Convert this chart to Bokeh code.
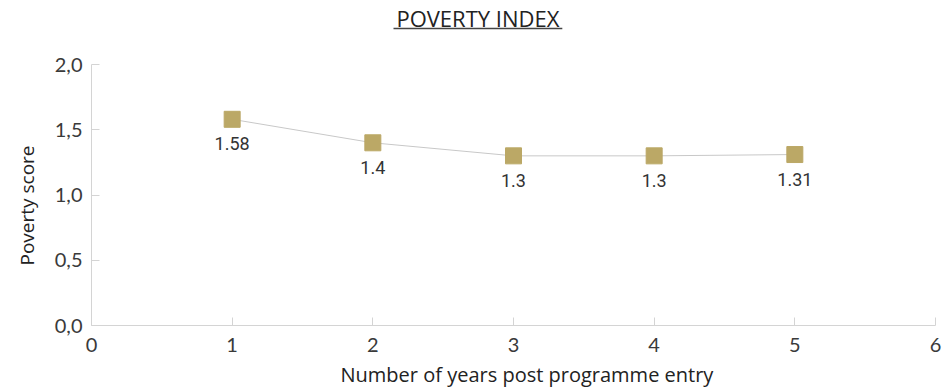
from bokeh.plotting import figure
from bokeh.models import ColumnDataSource, Range1d, FixedTicker, CustomJSTickFormatter, LabelSet, Title
from bokeh.core.properties import value
from bokeh.embed import file_html
from bokeh.resources import INLINE

# Poverty score by years since programme entry
years = [1, 2, 3, 4, 5]
scores = [1.58, 1.4, 1.3, 1.3, 1.31]
score_labels = ["1.58", "1.4", "1.3", "1.3", "1.31"]

x_ticks = [0, 1, 2, 3, 4, 5, 6]
y_ticks = [0.0, 0.5, 1.0, 1.5, 2.0]

chart_title = "POVERTY INDEX"
x_title = "Number of years post  programme entry"
y_title = "Poverty score"

src = ColumnDataSource(dict(x=years, y=scores, label=score_labels))

# The frame reaches the top of the canvas so the title can be drawn inside it;
# the axes are bounded to the data extent.
y_top = 2.0 + 64 / 130.5
p = figure(width=944, height=391, output_backend="svg", toolbar_location=None,
           x_range=Range1d(0, 6), y_range=Range1d(0, y_top),
           min_border_left=91, min_border_right=9, min_border_top=0, min_border_bottom=66)
p.outline_line_color = None
p.xgrid.grid_line_color = None
p.ygrid.grid_line_color = None
p.background_fill_color = "white"
p.border_fill_color = "white"

font = "Open Sans"
tick_font = "Lato"
axis_col = "#d4d4d4"
text_col = "#3a3a3a"

for ax in (p.xaxis[0], p.yaxis[0]):
    ax.axis_line_color = axis_col
    ax.major_tick_line_color = axis_col
    ax.major_tick_in = 8
    ax.major_tick_out = 0
    ax.minor_tick_line_color = None
    ax.major_label_text_font = tick_font
    ax.major_label_text_font_size = "20px"
    ax.major_label_text_color = text_col

p.xaxis.bounds = (0, 6)
p.yaxis.bounds = (0, 2)
p.xaxis.ticker = FixedTicker(ticks=x_ticks)
p.yaxis.ticker = FixedTicker(ticks=y_ticks)
p.yaxis.formatter = CustomJSTickFormatter(code="return tick.toFixed(1).replace('.', ',');")
p.xaxis.major_label_standoff = 12
p.yaxis.major_label_standoff = 9

# Axis titles, positioned along the bounded axes
p.add_layout(Title(text=y_title, align="left", offset=60, standoff=20, vertical_align="top",
                   text_font=font, text_font_size="19px", text_font_style="normal",
                   text_color="#222222"), "left")
p.add_layout(Title(text=x_title, align="left", offset=249, standoff=8, text_font=font,
                   text_font_size="20px", text_font_style="normal", text_color="#222222"), "below")

p.line("x", "y", source=src, line_color="#c8c8c8", line_width=1)
p.scatter("x", "y", source=src, marker="square", size=16, fill_color="#bba866", line_color="#bba866")

labels = LabelSet(x="x", y="y", text="label", source=src, text_align="center", text_baseline="top",
                  y_offset=-18, text_font=value("Roboto"), text_font_size="18px", text_color="#333333")
p.add_layout(labels)

# Underlined title
title_x = 2.747
title_y = 2.0 + 47 / 130.5
p.text(x=[title_x], y=[title_y], text=[chart_title], text_align="center", text_baseline="middle",
       text_font=value(font), text_font_size="22px", text_color="#222222")
p.segment(x0=[title_x - 0.60], x1=[title_x + 0.60], y0=[2.0 + 36 / 130.5], y1=[2.0 + 36 / 130.5],
          line_color="#444444", line_width=1.5)

open("out.html", "w").write(file_html(p, INLINE))
